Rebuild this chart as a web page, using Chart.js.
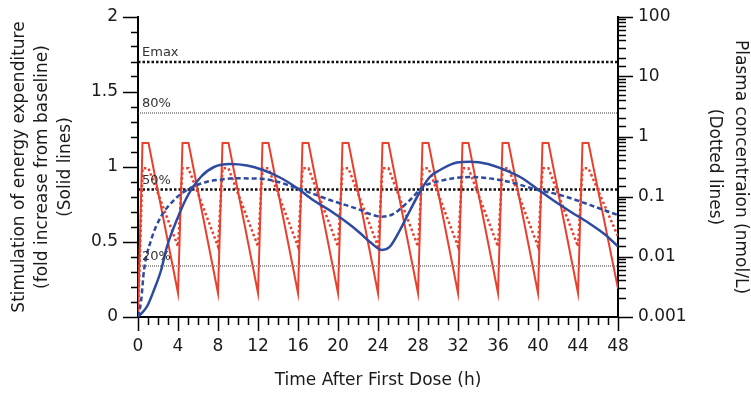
<!DOCTYPE html>
<html>
<head>
<meta charset="utf-8">
<script src="https://cdn.jsdelivr.net/npm/chart.js@4.4.1/dist/chart.umd.min.js"></script>
<style>
  html, body { margin: 0; padding: 0; background: #fff; }
  canvas { display: block; }
</style>
</head>
<body>
<canvas id="pkChart" width="751" height="397"></canvas>
<script>
// ---- values ----

// dashed reference levels (left axis) and their labels
const refLevels = [1.7, 1.36, 0.85, 0.34];
const refLabels = ['Emax', '80%', '50%', '20%'];

// red: dosing every 4 h (shared time points)
const redTimes = [0, 0.45, 1.05, 4, 4.45, 5.05, 8, 8.45, 9.05, 12, 12.45, 13.05,
    16, 16.45, 17.05, 20, 20.45, 21.05, 24, 24.45, 25.05, 28, 28.45, 29.05,
    32, 32.45, 33.05, 36, 36.45, 37.05, 40, 40.45, 41.05, 44, 44.45, 45.05, 48];
const redEffect = [0, 1.16, 1.16, 0.16, 1.16, 1.16, 0.16, 1.16, 1.16, 0.16, 1.16, 1.16,
    0.16, 1.16, 1.16, 0.16, 1.16, 1.16, 0.16, 1.16, 1.16, 0.16, 1.16, 1.16,
    0.16, 1.16, 1.16, 0.16, 1.16, 1.16, 0.16, 1.16, 1.16, 0.16, 1.16, 1.16, 0.19];
const redConc = [0.001, 0.3, 0.3, 0.015, 0.3, 0.3, 0.015, 0.3, 0.3, 0.015, 0.3, 0.3,
    0.015, 0.3, 0.3, 0.015, 0.3, 0.3, 0.015, 0.3, 0.3, 0.015, 0.3, 0.3,
    0.015, 0.3, 0.3, 0.015, 0.3, 0.3, 0.015, 0.3, 0.3, 0.015, 0.3, 0.3, 0.022];

// blue solid: effect (left axis)
const blueEffectTimes = [0, 0.9, 1.6, 2.3, 2.9, 3.9, 4.9, 6.3, 7.6, 9.2, 10.9, 12.5,
    14.2, 15.9, 17.5, 19.2, 21.2, 22.2, 23.2, 24.4, 25.2, 26.2, 27.2, 28.2,
    29.2, 30.2, 31.9, 33.2, 35, 36.7, 38.3, 40, 41.7, 43.3, 45, 46.7, 48];
const blueEffect = [0, 0.07, 0.18, 0.31, 0.47, 0.65, 0.8, 0.935, 1.0, 1.02, 1.01, 0.98,
    0.93, 0.86, 0.78, 0.71, 0.615, 0.56, 0.5, 0.447, 0.47, 0.58, 0.71, 0.835,
    0.935, 0.98, 1.03, 1.035, 1.02, 0.98, 0.93, 0.85, 0.77, 0.70, 0.63, 0.55, 0.47];

// blue dashed: plasma concentration (right axis, nmol/L)
const blueConcTimes = [0, 0.3, 0.6, 1.3, 2.3, 3.6, 4.9, 6.9, 8.4, 9.5, 12.5, 15.9,
    19.2, 22.2, 23.2, 24.4, 25.5, 27.2, 28.5, 30.2, 33.2, 36.7, 40, 42.2, 48];
const blueConc = [0.001, 0.0018, 0.006, 0.019, 0.047, 0.089, 0.131, 0.18, 0.196, 0.205, 0.20, 0.141,
    0.089, 0.061, 0.052, 0.047, 0.052, 0.089, 0.147, 0.185, 0.215, 0.185, 0.131, 0.108, 0.05];

// axis ticks
const timeMax = 48;
const timeLabelStep = 4;
const effectMax = 2;
const logTickLabels = ['0.001', '0.01', '0.1', '1', '10', '100'];

// ---- helpers ----
const RED = '#e8402f';
const BLUE = '#2d4a9e';
const INK = '#1a1a1a';
const FONT = 'DejaVu Sans';

Chart.defaults.font.family = FONT;
Chart.defaults.color = INK;

const toPoints = (xs, ys) => xs.map((x, i) => ({ x: x, y: ys[i] }));

const isDecade = (v) => {
    const lg = Math.log10(v);
    return Math.abs(lg - Math.round(lg)) < 1e-6;
};
const isHalf = (v) => Math.abs(v * 2 - Math.round(v * 2)) < 1e-6;

// reference lines: thick dotted for Emax / 50%, fine dotted for 80% / 20%
const refDatasets = refLevels.map((lvl, i) => {
    const heavy = i % 2 === 0;
    return {
        label: refLabels[i],
        data: [{ x: 0, y: lvl }, { x: timeMax, y: lvl }],
        yAxisID: 'y',
        borderColor: heavy ? '#111' : '#333',
        borderWidth: heavy ? 2.5 : 1,
        borderDash: heavy ? [2.5, 2] : [1, 1],
        pointRadius: 0,
        order: 6
    };
});

// level labels drawn just above each reference line
const refLabelPlugin = {
    id: 'refLabels',
    afterDatasetsDraw(chart) {
        const ctx = chart.ctx;
        const y = chart.scales.y;
        ctx.save();
        ctx.font = '13px "' + FONT + '"';
        ctx.fillStyle = '#333';
        ctx.textAlign = 'left';
        ctx.textBaseline = 'alphabetic';
        refLevels.forEach((lvl, i) => {
            ctx.fillText(refLabels[i], chart.chartArea.left + 4, y.getPixelForValue(lvl) - 6);
        });
        ctx.restore();
    }
};

const axisBorder = { display: true, color: '#000', width: 2 };

new Chart(document.getElementById('pkChart'), {
    type: 'line',
    data: {
        datasets: [
            ...refDatasets,
            {
                label: 'conc q4h',
                data: toPoints(redTimes, redConc),
                yAxisID: 'y2',
                borderColor: RED,
                borderWidth: 2.5,
                borderDash: [2.5, 2.5],
                pointRadius: 0,
                tension: 0,
                order: 4
            },
            {
                label: 'effect q4h',
                data: toPoints(redTimes, redEffect),
                yAxisID: 'y',
                borderColor: RED,
                borderWidth: 2,
                pointRadius: 0,
                tension: 0,
                order: 3
            },
            {
                label: 'conc slow',
                data: toPoints(blueConcTimes, blueConc),
                yAxisID: 'y2',
                borderColor: BLUE,
                borderWidth: 2.5,
                borderDash: [5, 3],
                pointRadius: 0,
                cubicInterpolationMode: 'monotone',
                order: 2
            },
            {
                label: 'effect slow',
                data: toPoints(blueEffectTimes, blueEffect),
                yAxisID: 'y',
                borderColor: BLUE,
                borderWidth: 2.5,
                pointRadius: 0,
                cubicInterpolationMode: 'monotone',
                order: 1
            }
        ]
    },
    options: {
        responsive: false,
        animation: false,
        layout: { padding: { top: 17 } },
        plugins: {
            legend: { display: false },
            tooltip: { enabled: false }
        },
        scales: {
            x: {
                type: 'linear',
                min: 0,
                max: timeMax,
                border: axisBorder,
                grid: {
                    drawOnChartArea: false,
                    tickLength: 14,
                    tickColor: '#000',
                    tickWidth: 1.5,
                    tickBorderDash: (c) => (c.tick && c.tick.value % timeLabelStep === 0) ? [] : [7, 100]
                },
                ticks: {
                    stepSize: 1,
                    autoSkip: false,
                    maxRotation: 0,
                    padding: 5,
                    font: { size: 17 },
                    color: INK,
                    callback: (v) => v % timeLabelStep === 0 ? String(v) : ''
                },
                title: {
                    display: true,
                    text: 'Time After First Dose (h)',
                    font: { size: 17, lineHeight: 1.2 },
                    color: INK,
                    padding: { top: 0, bottom: 6 }
                },
                afterFit: (s) => { s.height = 80; }
            },
            y: {
                type: 'linear',
                position: 'left',
                min: 0,
                max: effectMax,
                border: axisBorder,
                grid: {
                    drawOnChartArea: false,
                    tickLength: 15,
                    tickColor: '#000',
                    tickWidth: 1.5,
                    tickBorderDash: (c) => (c.tick && isHalf(c.tick.value)) ? [] : [0, 8, 7, 100]
                },
                ticks: {
                    stepSize: 0.1,
                    maxTicksLimit: 40,
                    autoSkip: false,
                    padding: 5,
                    font: { size: 17 },
                    color: INK,
                    callback: (v) => isHalf(v) ? String(Math.round(v * 2) / 2) : ''
                },
                title: {
                    display: true,
                    text: ['Stimulation of energy expenditure', '(fold increase from baseline)', '(Solid lines)'],
                    font: { size: 17, lineHeight: 1.35 },
                    color: INK,
                    padding: { top: 8, bottom: 0 }
                },
                afterFit: (s) => { s.width = 138; }
            },
            y2: {
                type: 'logarithmic',
                position: 'right',
                min: 0.001,
                max: 100,
                border: axisBorder,
                grid: {
                    drawOnChartArea: false,
                    tickLength: 15,
                    tickColor: '#000',
                    tickWidth: 1.5,
                    tickBorderDash: (c) => (c.tick && isDecade(c.tick.value)) ? [] : [7, 100]
                },
                ticks: {
                    autoSkip: false,
                    padding: 5,
                    font: { size: 17 },
                    color: INK,
                    callback: (v) => isDecade(v) ? logTickLabels[Math.round(Math.log10(v)) + 3] : ''
                },
                title: {
                    display: true,
                    text: ['Plasma concentraion (nmol/L)', '(Dotted lines)'],
                    font: { size: 17, lineHeight: 1.5 },
                    color: INK,
                    padding: { top: -2, bottom: 0 }
                },
                afterFit: (s) => { s.width = 133; }
            }
        }
    },
    plugins: [refLabelPlugin]
});
</script>
</body>
</html>
